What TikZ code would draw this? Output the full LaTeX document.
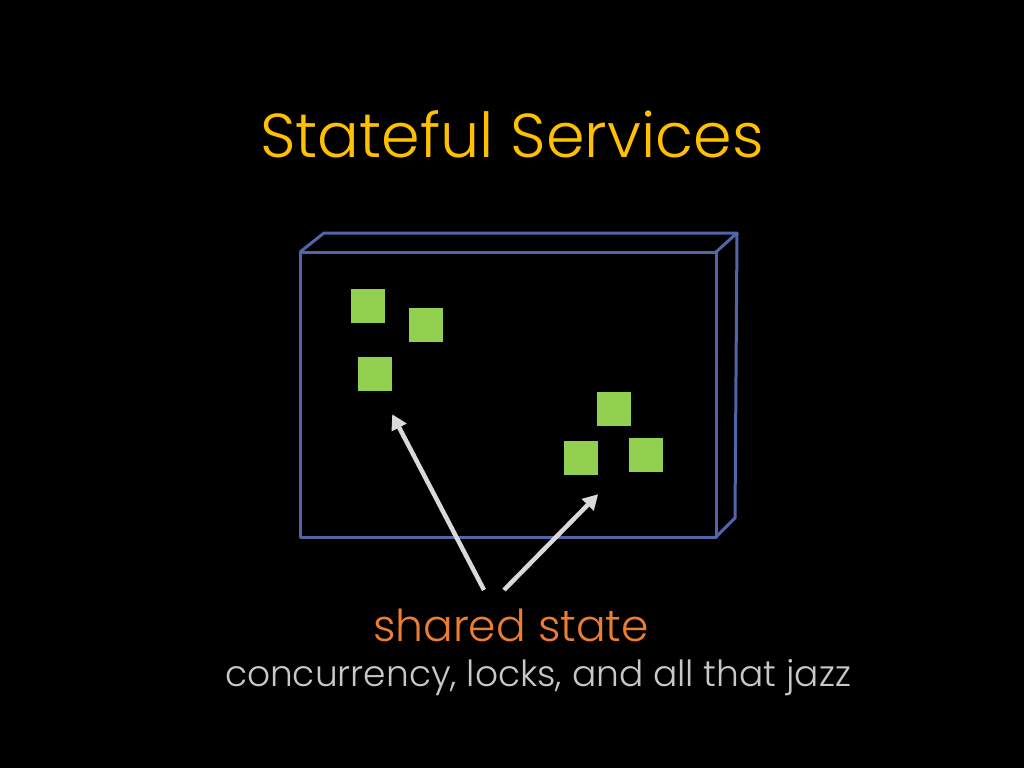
\documentclass[tikz,border=0pt]{standalone}
\usepackage{fontspec}
\setmainfont{Poppins}[UprightFont=* Light]
\usepackage{tikz}
\usetikzlibrary{arrows.meta}

\definecolor{titelgelb}{RGB}{255,192,0}
\definecolor{kastenblau}{RGB}{84,100,168}
\definecolor{zustandgruen}{RGB}{146,208,80}
\definecolor{pfeilgrau}{RGB}{217,217,217}
\definecolor{textorange}{RGB}{237,125,49}
\definecolor{textgrau}{RGB}{200,200,200}

\begin{document}
\begin{tikzpicture}[x=1pt,y=-1pt,
	kasten/.style={draw=kastenblau,line width=3pt,line join=round},
	zustand/.style={fill=zustandgruen,minimum size=34pt,inner sep=0pt},
	pfeil/.style={draw=pfeilgrau,line width=4.5pt,-{Triangle[length=15pt,width=16pt]}}]
		% Hintergrund 1024 x 768
		\fill[black] (0,0) rectangle (1024,768);
		\useasboundingbox (0,0) rectangle (1024,768);
		
		% Titel
		\node[anchor=base,text=titelgelb,font=\fontsize{62}{70}\selectfont] (titel) at (512,157) {Stateful Services};
		
		% Dienst als flacher Quader (Vorderseite, Oberseite, rechte Seite)
		\draw[kasten] (300,252) rectangle (716,537);
		\draw[kasten] (300,252) -- (324,233) -- (737,233) -- (716,252);
		\draw[kasten] (737,233) -- (735,518) -- (716,537);
		
		% Zustaende (gruene Quadrate)
		\foreach \n/\x/\y in {1/368/306, 2/426/325, 3/375/374, 4/614/409, 5/581/458, 6/646/455}
		\node[zustand] (s\n) at (\x,\y) {};
		
		% Beschriftung
		\node[anchor=base,text=textorange,font=\fontsize{44}{50}\selectfont] (geteilt) at (511,641) {shared state};
		\node[anchor=base,text=textgrau,font=\fontsize{36}{42}\selectfont] (jazz) at (538,686) {concurrency, locks, and all that jazz};
		
		% Pfeile vom Text zu den Zustaenden
		\coordinate (p1) at (484,590);
		\coordinate (p2) at (504,590);
		\draw[pfeil] (p1) -- ([yshift=-23pt]s3.south east);
		\draw[pfeil] (p2) -- ([yshift=-19pt]s5.south east);
		
	\end{tikzpicture}
\end{document}
